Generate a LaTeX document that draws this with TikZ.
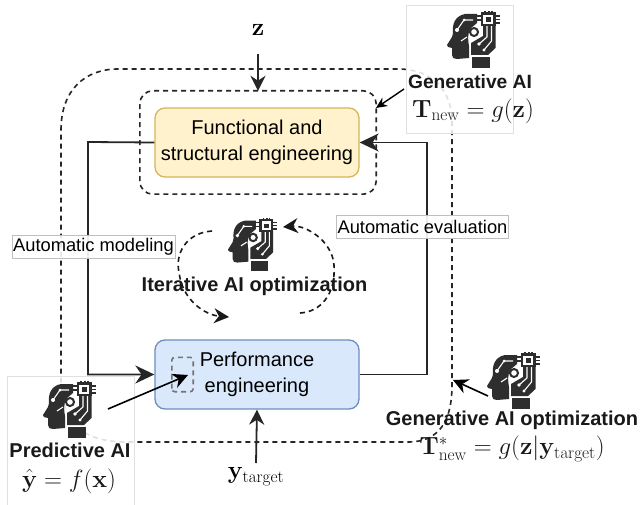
\documentclass[tikz,border=0pt]{standalone}
\usepackage[no-math]{fontspec}
\setmainfont{Liberation Sans}
\usetikzlibrary{arrows.meta}
\definecolor{icondark}{HTML}{2E2E2E}
\definecolor{funcfill}{HTML}{FFF2CC}\definecolor{funcdraw}{HTML}{D6B656}
\definecolor{perffill}{HTML}{DAE8FC}\definecolor{perfdraw}{HTML}{6C8EBF}
\newcommand{\sz}[1]{\fontsize{#1}{#1}\selectfont}
\tikzset{
  block/.style={draw, rounded corners=10pt, line width=1.3pt, minimum width=204pt, minimum height=69pt, align=center, inner sep=0pt, font=\sz{20}},
  mainline/.style={draw=black!85, line width=1.8pt},
  bigtip/.style={-{Stealth[length=19pt,width=18pt]}},
  smalltip/.style={-{Stealth[length=15pt,width=15pt]}},
  dashline/.style={draw=black!85, line width=1.6pt, dash pattern=on 5pt off 4pt},
  panel/.style={draw=black!12, line width=.8pt, fill=white, fill opacity=.86, text opacity=1, inner sep=0pt},
  taglabel/.style={draw=black!25, line width=.7pt, fill=white, fill opacity=.9, text opacity=1, inner sep=1pt, font=\sz{18.3}, minimum height=23pt},
  ailabel/.style={font=\bfseries\sz{20}, inner sep=0pt, text=black!90},
  mathlabel/.style={font=\sz{24}, inner sep=0pt, text=black!90},
  aihead/.pic={
    \fill[icondark] (30,4) -- (18,4) .. controls (8,6) and (5,14) .. (6,23) -- (5,27) -- (0,35) -- (1,37) -- (5,38) -- (5,45) .. controls (5,48) and (7,49) .. (10,49) -- (22,48) -- (22,36) .. controls (21,30) and (20,24) .. (24,18) -- (30,13) -- cycle;
    \fill[icondark] (25,47) rectangle (43,58);
    \fill[icondark] (24,45) -- (24,33) -- (36,26) -- (36,15) -- (48.5,15) -- (48.5,38) -- (41,45) -- cycle;
    \draw[white,line width=1.1pt,line join=round] (40,16) -- (40,27) -- (32,34) (44.5,16) -- (44.5,31) -- (37,40);
    \fill[white] (32,34) circle (1.8) (37,40) circle (1.6);
    \draw[icondark,fill=white,line width=2.4pt] (35,3.5) rectangle (47.5,15);
    \fill[icondark] (38.5,7) rectangle (44,12);
    \draw[icondark,line width=1.2pt] (47,6) -- (53,6) (47,9.5) -- (53,9.5) (47,13) -- (53,13) (38,4) -- (38,1) (42,4) -- (42,1) (45,4) -- (45,1);
    \draw[icondark,line width=1.2pt] (22,6) -- (35,6) (28,10) -- (35,10);
    \draw[icondark,fill=white,line width=2pt] (27,22) circle (4);
    \fill[white] (10,20) circle (2) (17,10) circle (1.5);
    \draw[white,line width=1.1pt] (10,20) -- (17,10) -- (26,10);
    \draw[white,line width=1.1pt] (14,31) -- (20,27);
  }
}
\begin{document}
\begin{tikzpicture}[x=1pt,y=-1pt]
\useasboundingbox (0,0) rectangle (642,505);
\fill[white] (0,0) rectangle (642,505);
% outer dashed loop
\draw[dashline] (61,130) .. controls (61,90) and (85,69) .. (118,69) -- (398,69) .. controls (432,69) and (452,90) .. (452,122) -- (452,385) .. controls (452,420) and (440,442) .. (408,442) -- (130,442) .. controls (110,442) and (90,440) .. (75,425) .. controls (65,412) and (61,400) .. (61,380) -- cycle;
% blocks
\node[block, fill=funcfill, draw=funcdraw] (func) at (257,142.5) {Functional and\\[6pt]structural engineering};
\node[block, fill=perffill, draw=perfdraw] (perf) at (257,374.5) {Performance\\[6pt]engineering};
\node[draw=none, minimum width=236pt, minimum height=103pt, inner sep=0pt] (inner) at (258,142.5) {};
\draw[dashline, rounded corners=13pt] (inner.south west) rectangle (inner.north east);
\node[minimum width=21pt, minimum height=34pt, inner sep=0pt] (focus) at (182.5,374.5) {};
\draw[dashline, draw=black!55, rounded corners=3pt] (focus.south west) rectangle (focus.north east);
% main loop
\coordinate (bendL) at (88,142);
\coordinate (bendR) at (427,374.5);
\draw[mainline, bigtip] (func.west) -- (bendL) |- (perf.west);
\draw[mainline, bigtip] (perf.east) -- (bendR) |- (func.east);
% panels
\node[panel, minimum width=107pt, minimum height=128pt] (genpanel) at (459.5,69) {};
\node[panel, minimum width=127pt, minimum height=129pt] (predpanel) at (70.5,440.5) {};
% icons
\pic at (447,10) {aihead};
\pic[scale=.93] at (228,217) {aihead};
\pic at (43,380) {aihead};
\pic at (487,351) {aihead};
% free ends
\coordinate (genstart) at (404,89);
\coordinate (predstart) at (108,409);
\coordinate (predend) at (188,375);
\coordinate (optstart) at (488,396);
\coordinate (optend) at (453,380);
% inputs
\node[font=\sz{24}, inner sep=0pt] (z) at (258,30) {$\mathbf{z}$};
\node[font=\sz{24}, inner sep=0pt] (yt) at (256,477) {$\mathbf{y}_{\mathrm{target}}$};
\draw[mainline, smalltip] (z) ++(0,24) -- (inner.north -| z);
\draw[mainline, smalltip] (yt) ++(0,-14) -- (perf.south);
\draw[line width=1.4pt, -{Stealth[length=11pt,width=10pt]}] (genstart) -- (376,108);
\draw[line width=1.6pt, smalltip] (predstart) -- (predend);
\draw[line width=1.6pt, smalltip] (optstart) -- (optend);
% tags
\node[taglabel] (modeling) at (93.5,247) {Automatic modeling};
\node[taglabel] (evaluation) at (422.5,227) {Automatic evaluation};
% iterative arcs
\coordinate (a1) at (212,231);\coordinate (a2) at (229,317);
\coordinate (b1) at (300,313);\coordinate (b2) at (283,227);
\draw[dashline, draw=black!90, smalltip] (a1) .. controls (185,233) and (175,255) .. (179,272) .. controls (182,300) and (205,315) .. (a2);
\draw[dashline, draw=black!90, smalltip] (b1) .. controls (320,312) and (336,295) .. (334,265) .. controls (332,240) and (305,225) .. (b2);
% texts
\node[ailabel, font=\bfseries\sz{19.2}] (gentxt) at (470,82) {Generative AI};
\node[mathlabel] (genmath) at (473,111) {$\mathbf{T}_{\mathrm{new}}=g(\mathbf{z})$};
\node[ailabel] (itertxt) at (254.5,286) {Iterative AI optimization};
\node[ailabel] (predtxt) at (70,450) {Predictive AI};
\node[mathlabel] (predmath) at (69,481) {$\hat{\mathbf{y}}=f(\mathbf{x})$};
\node[ailabel] (opttxt) at (512,420) {Generative AI optimization};
\node[mathlabel] (optmath) at (512,449) {$\mathbf{T}^{*}_{\mathrm{new}}=g(\mathbf{z}|\mathbf{y}_{\mathrm{target}})$};
\end{tikzpicture}
\end{document}
